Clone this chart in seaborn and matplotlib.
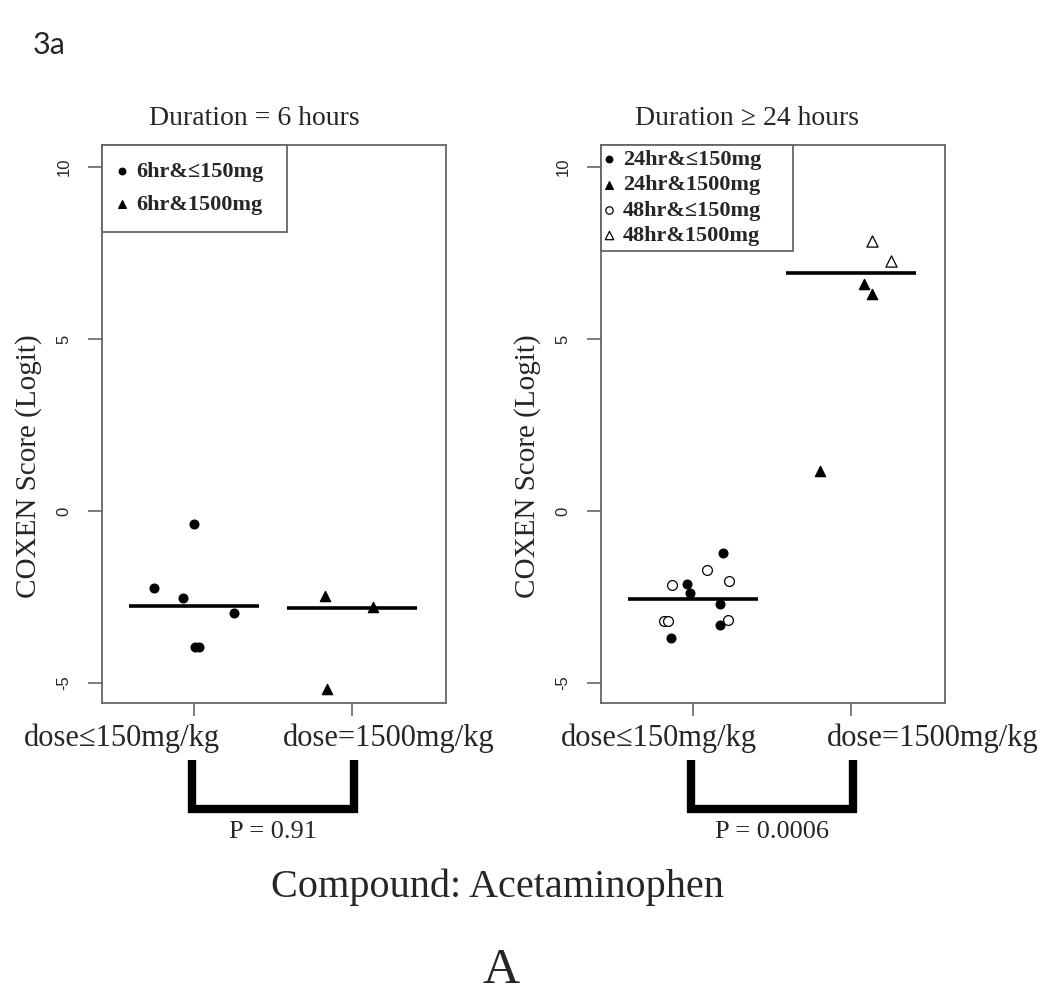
"""Acetaminophen COXEN score strip charts (figure 3a)."""

import matplotlib
matplotlib.use("Agg")
import matplotlib.pyplot as plt
import pandas as pd
import seaborn as sns

# Duration = 6 hours
h6_low_vals = [-2.25, -0.38, -2.54, -3.96, -3.96, -2.97]
h6_low_jit = [-0.25, 0.00, -0.07, 0.01, 0.03, 0.25]
h6_high_vals = [-2.48, -2.80, -5.16]
h6_high_jit = [-0.17, 0.13, -0.16]
left_medians = [-2.77, -2.82]

# Duration >= 24 hours
h24_low_vals = [-1.21, -2.11, -2.37, -2.71, -3.31, -3.69]
h24_low_jit = [0.19, -0.04, -0.02, 0.17, 0.17, -0.14]
h24_high_vals = [1.15, 6.61, 6.32]
h24_high_jit = [-0.20, 0.08, 0.13]
h48_low_vals = [-1.70, -2.16, -2.04, -3.20, -3.20, -3.17]
h48_low_jit = [0.09, -0.13, 0.23, -0.18, -0.16, 0.22]
h48_high_vals = [7.85, 7.27]
h48_high_jit = [0.13, 0.25]
right_medians = [-2.55, 6.93]

dose_labels = ["dose≤150mg/kg", "dose=1500mg/kg"]
panel_titles = ["Duration = 6 hours", "Duration ≥ 24 hours"]
p_values = ["P = 0.91", "P = 0.0006"]
y_ticks = [-5, 0, 5, 10]

SERIF = "Liberation Serif"
GREY = "#666666"

sns.set_theme(style="white")
plt.rcParams["font.family"] = [SERIF, "DejaVu Serif"]


def add_series(ax, vals, jit, group, marker, filled, label, size):
    df = pd.DataFrame({"x": [group + j for j in jit], "y": vals})
    sns.scatterplot(data=df, x="x", y="y", ax=ax, marker=marker, s=size,
                    color="black" if filled else "white", edgecolor="black",
                    linewidth=0.9, label=label, zorder=3)


def style_axes(ax, medians, p_text, label_pos):
    for pos, med in zip([1, 2], medians):
        ax.hlines(med, pos - 0.41, pos + 0.41, color="black", lw=2.6, zorder=2)
    ax.set_xlim(0.42, 2.59)
    ax.set_ylim(-5.58, 10.64)
    ax.set_xticks([1, 2])
    ax.set_xticklabels(["", ""])
    # the group names sit wider apart than the ticks, as in the original
    for xpos, lab in zip(label_pos, dose_labels):
        ax.text(xpos, -0.063, lab, transform=ax.transAxes, ha="center", va="center",
                fontsize=22, family=SERIF)
    ax.set_yticks(y_ticks)
    ax.set_yticklabels([str(t) for t in y_ticks], rotation=90, va="center",
                       fontsize=12, family="Liberation Sans")
    ax.tick_params(axis="x", direction="out", length=9, width=1.2, color=GREY, bottom=True)
    ax.tick_params(axis="y", direction="out", length=10, width=1.2, color=GREY, pad=12, left=True)
    ax.set_xlabel("")
    ax.set_ylabel("COXEN Score (Logit)", fontsize=21, family=SERIF)
    ax.yaxis.set_label_coords(-0.175, 0.425)
    for sp in ax.spines.values():
        sp.set_visible(True)
        sp.set_color(GREY)
        sp.set_linewidth(1.3)
    # significance bracket under the two groups
    tr = ax.get_xaxis_transform()
    ax.plot([0.99, 0.99, 2.01, 2.01], [-0.102, -0.19, -0.19, -0.102], color="black",
            lw=6, transform=tr, clip_on=False, solid_joinstyle="miter", solid_capstyle="butt")
    ax.text(1.5, -0.232, p_text, transform=tr, ha="center", va="center", fontsize=19, family=SERIF)


def add_legend(ax, width, spacing, pad):
    leg = ax.legend(loc="upper left", bbox_to_anchor=(0, 0, width, 1), mode="expand",
                    borderaxespad=0, fancybox=False, edgecolor=GREY, framealpha=1,
                    handlelength=0.3, handletextpad=0.5, labelspacing=spacing,
                    borderpad=pad, markerscale=0.75,
                    prop={"family": SERIF, "weight": "bold", "size": 16})
    leg.get_frame().set_linewidth(1.3)


fig = plt.figure(figsize=(10.5, 9.97), dpi=100)
ax1 = fig.add_axes([0.0971, 0.2949, 0.3276, 0.5597])
ax2 = fig.add_axes([0.5724, 0.2949, 0.3276, 0.5597])

add_series(ax1, h6_low_vals, h6_low_jit, 1, "o", True, "6hr&≤150mg", 40)
add_series(ax1, h6_high_vals, h6_high_jit, 2, "^", True, "6hr&1500mg", 55)
style_axes(ax1, left_medians, p_values[0], [0.058, 0.834])
add_legend(ax1, 0.538, 0.55, 0.75)

add_series(ax2, h24_low_vals, h24_low_jit, 1, "o", True, "24hr&≤150mg", 40)
add_series(ax2, h24_high_vals, h24_high_jit, 2, "^", True, "24hr&1500mg", 55)
add_series(ax2, h48_low_vals, h48_low_jit, 1, "o", False, "48hr&≤150mg", 50)
add_series(ax2, h48_high_vals, h48_high_jit, 2, "^", False, "48hr&1500mg", 65)
style_axes(ax2, right_medians, p_values[1], [0.169, 0.965])
add_legend(ax2, 0.558, 0.22, 0.2)

fig.text(254 / 1050, 1 - 118 / 997, panel_titles[0], ha="center", va="center", fontsize=20)
fig.text(747 / 1050, 1 - 118 / 997, panel_titles[1], ha="center", va="center", fontsize=20)
fig.text(497 / 1050, 1 - 887 / 997, "Compound: Acetaminophen", ha="center", va="center", fontsize=29)
fig.text(501 / 1050, 1 - 994 / 997, "A", ha="center", va="bottom", fontsize=37)
fig.text(33 / 1050, 1 - 45 / 997, "3a", ha="left", va="center", fontsize=22, family=["Lato", "DejaVu Sans"])

fig.savefig("out.png", dpi=100, facecolor="white")
